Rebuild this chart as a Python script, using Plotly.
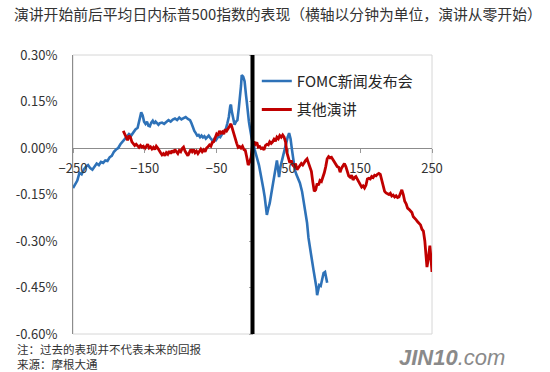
import plotly.graph_objects as go

# ---- data (minutes relative to speech start, % change of S&P 500) ----
fomc_x = [-250, -247, -244, -241, -238, -235, -232, -229, -226, -223, -220, -217, -214, -211, -208,
          -205, -202, -199, -196, -193, -190, -187, -184, -181, -178, -175, -172, -169, -166, -163,
          -160, -157, -155, -153, -151, -149, -147, -145, -143, -141, -139, -137, -135, -133, -131,
          -129, -126, -123, -120, -117, -114, -111, -108, -105, -102, -99, -96, -93, -90, -87,
          -85, -83, -81, -79, -77, -75, -73, -71, -69, -67, -65, -63, -61, -59, -57,
          -55, -53, -51, -49, -47, -45, -43, -41, -39, -37, -35, -33, -31, -30, -29,
          -27, -25, -23, -21, -19, -17, -16, -15, -13, -11, -10, -9, -8, -7, -6,
          -5, -4, -3, -2, -1, 0, 1, 3, 5, 7, 9, 11, 13, 15, 17,
          19, 20, 22, 24, 26, 28, 30, 32, 34, 36, 37, 39, 41, 43, 45,
          47, 49, 51, 53, 55, 57, 59, 61, 63, 66, 69, 71, 73, 76, 78,
          80, 82, 85, 87, 89, 90, 91, 93, 95, 96, 98, 99, 101, 103, 104]
fomc_y = [-0.129, -0.115, -0.105, -0.080, -0.085, -0.070, -0.060, -0.055, -0.065, -0.070, -0.058, -0.050, -0.055, -0.045, -0.048,
          -0.040, -0.042, -0.030, -0.025, -0.012, -0.005, 0.000, 0.012, 0.020, 0.030, 0.038, 0.045, 0.040, 0.052, 0.060,
          0.065, 0.090, 0.115, 0.105, 0.085, 0.078, 0.085, 0.072, 0.070, 0.082, 0.088, 0.078, 0.085, 0.080, 0.075,
          0.080, 0.082, 0.078, 0.085, 0.090, 0.085, 0.092, 0.095, 0.090, 0.098, 0.092, 0.096, 0.100, 0.094, 0.090,
          0.080, 0.065, 0.055, 0.048, 0.040, 0.042, 0.035, 0.040, 0.034, 0.038, 0.030, 0.035, 0.040, 0.033, 0.028,
          0.022, 0.030, 0.025, 0.032, 0.038, 0.035, 0.045, 0.050, 0.055, 0.062, 0.080, 0.100, 0.135, 0.140, 0.120,
          0.095, 0.075, 0.085, 0.090, 0.130, 0.170, 0.200, 0.235, 0.230, 0.215, 0.200, 0.170, 0.150, 0.120, 0.100,
          0.085, 0.070, 0.050, 0.040, 0.030, 0.020, 0.015, -0.005, -0.020, -0.040, -0.055, -0.080, -0.100, -0.130, -0.158,
          -0.200, -0.216, -0.195, -0.178, -0.150, -0.120, -0.085, -0.060, -0.040, -0.075, -0.094, -0.060, -0.040, -0.020, -0.006,
          0.015, 0.035, 0.048, 0.030, -0.006, -0.040, -0.071, -0.085, -0.095, -0.113, -0.140, -0.168, -0.200, -0.242, -0.290,
          -0.329, -0.350, -0.394, -0.420, -0.450, -0.475, -0.465, -0.442, -0.445, -0.432, -0.415, -0.403, -0.400, -0.420, -0.435]

other_x = [-180, -178, -176, -174, -172, -170, -168, -166, -164, -162, -160, -158, -156, -154, -152,
           -150, -148, -146, -144, -142, -140, -138, -136, -134, -132, -130, -128, -126, -124, -122,
           -120, -118, -116, -114, -112, -110, -108, -106, -104, -102, -100, -98, -96, -94, -92,
           -90, -88, -86, -84, -82, -80, -78, -76, -74, -72, -70, -68, -66, -64, -62,
           -60, -58, -56, -54, -52, -50, -48, -46, -44, -42, -40, -38, -36, -34, -32,
           -30, -28, -26, -24, -22, -20, -18, -16, -14, -12, -10, -8, -6, -4, -2,
           0, 2, 4, 6, 8, 10, 12, 14, 16, 18, 20, 22, 24, 26, 28,
           30, 32, 34, 36, 38, 40, 42, 44, 46, 48, 50, 52, 54, 56, 58,
           60, 62, 64, 66, 68, 70, 72, 74, 76, 78, 80, 82, 84, 86, 88,
           90, 92, 94, 96, 98, 100, 102, 104, 106, 108, 110, 112, 114, 116, 118,
           120, 122, 124, 126, 128, 130, 132, 134, 136, 138, 140, 142, 144, 146, 148,
           150, 152, 154, 156, 158, 160, 162, 164, 166, 168, 170, 172, 174, 176, 178,
           180, 182, 184, 186, 188, 190, 192, 194, 196, 198, 200, 202, 204, 206, 208,
           210, 212, 214, 216, 218, 220, 222, 224, 226, 228, 230, 232, 234, 236, 238,
           240, 242, 243, 245, 246, 247, 248, 249, 250]
other_y = [0.055, 0.045, 0.030, 0.025, 0.040, 0.035, 0.020, 0.012, 0.008, 0.012, 0.005, 0.002, 0.008, 0.003, 0.006,
           -0.002, 0.005, 0.012, 0.000, 0.004, -0.003, 0.002, -0.005, 0.006, 0.000, -0.010, -0.015, -0.022, -0.018, -0.025,
           -0.015, -0.020, -0.010, -0.018, -0.008, -0.015, -0.005, -0.012, -0.018, -0.008, -0.012, -0.002, 0.003, -0.010, -0.018,
           -0.025, -0.015, -0.005, -0.012, -0.005, -0.015, -0.010, -0.018, -0.010, -0.004, -0.012, -0.006, -0.012, 0.000, 0.004,
           0.010, 0.006, 0.018, 0.020, 0.030, 0.045, 0.040, 0.055, 0.048, 0.052, 0.045, 0.060, 0.055, 0.065, 0.070,
           0.078, 0.060, 0.050, 0.030, 0.015, 0.002, 0.005, 0.000, 0.006, -0.005, -0.008, -0.030, -0.055, -0.045, -0.030,
           0.010, 0.020, 0.012, 0.018, 0.003, 0.005, -0.002, 0.000, -0.006, 0.008, 0.012, 0.010, 0.020, 0.015, 0.020,
           0.028, 0.022, 0.035, 0.030, 0.040, 0.035, 0.042, 0.035, 0.020, -0.015, -0.030, -0.048, -0.040, -0.055, -0.060,
           -0.050, -0.070, -0.062, -0.058, -0.050, -0.055, -0.045, -0.040, -0.035, -0.048, -0.060, -0.075, -0.110, -0.140, -0.135,
           -0.115, -0.120, -0.105, -0.108, -0.095, -0.080, -0.060, -0.035, -0.028, -0.032, -0.030, -0.038, -0.045, -0.050, -0.060,
           -0.062, -0.078, -0.065, -0.055, -0.050, -0.060, -0.075, -0.090, -0.094, -0.088, -0.103, -0.095, -0.092, -0.100, -0.110,
           -0.120, -0.126, -0.122, -0.129, -0.120, -0.100, -0.098, -0.100, -0.092, -0.095, -0.088, -0.090, -0.085, -0.082, -0.085,
           -0.103, -0.125, -0.140, -0.145, -0.148, -0.150, -0.146, -0.155, -0.152, -0.158, -0.154, -0.160, -0.158, -0.145, -0.135,
           -0.150, -0.172, -0.180, -0.194, -0.198, -0.205, -0.208, -0.222, -0.226, -0.232, -0.238, -0.242, -0.248, -0.262, -0.268,
           -0.300, -0.360, -0.384, -0.355, -0.330, -0.315, -0.340, -0.365, -0.400]

series_names = ["FOMC新闻发布会", "其他演讲"]
x_ticks = [-250, -150, -50, 50, 150, 250]
y_ticks = [-0.60, -0.45, -0.30, -0.15, 0.00, 0.15, 0.30]
y_tick_text = ["-0.60%", "-0.45%", "-0.30%", "-0.15%", "0.00%", "0.15%", "0.30%"]
title_text = "演讲开始前后平均日内标普500指数的表现（横轴以分钟为单位，演讲从零开始）"
note_text = "注：过去的表现并不代表未来的回报"
source_text = "来源：摩根大通"

BLUE = "#2E72B8"
RED = "#C00000"
FONT = "Noto Sans CJK SC"
TXT = "#333333"

fig = go.Figure()
fig.add_trace(go.Scatter(x=fomc_x, y=fomc_y, mode="lines", name=series_names[0],
                         line=dict(color=BLUE, width=2.6), legendgroup="a"))
fig.add_trace(go.Scatter(x=other_x, y=other_y, mode="lines", name=series_names[1],
                         line=dict(color=RED, width=2.8), legendgroup="b"))

# vertical tick marks on the x=0 axis
fig.add_trace(go.Scatter(x=[0], y=[0], yaxis="y2", mode="markers", marker=dict(opacity=0),
                         showlegend=False, hoverinfo="skip"))

fig.update_layout(
    width=550, height=372,
    margin=dict(l=73, r=118, t=55, b=38),
    paper_bgcolor="white", plot_bgcolor="white",
    font=dict(family=FONT, color=TXT, size=13),
    title=dict(text=title_text, x=14 / 550, xanchor="left", xref="container",
               y=1 - 15 / 372, yanchor="middle", yref="container",
               font=dict(size=14.8, color=TXT, family=FONT)),
    showlegend=True,
    legend=dict(x=0.512, y=0.965, xanchor="left", yanchor="top",
                bgcolor="rgba(0,0,0,0)", font=dict(size=15, color="#262626", family=FONT),
                tracegroupgap=6),
    xaxis=dict(range=[-250, 250], tickvals=x_ticks, showgrid=False, zeroline=False,
               anchor="free", position=2 / 3, showline=False,
               ticks="outside", ticklen=4, tickcolor="#999999",
               tickfont=dict(size=13, color=TXT, family=FONT), ticklabelstandoff=4),
    yaxis=dict(range=[-0.6, 0.3], tickvals=y_ticks, ticktext=y_tick_text, showgrid=False,
               zeroline=True, zerolinecolor="#8c8c8c", zerolinewidth=1,
               showline=True, linecolor="#8c8c8c", linewidth=1, ticks="",
               tickfont=dict(size=13, color=TXT, family=FONT), ticklabelstandoff=12),
    yaxis2=dict(range=[-0.6, 0.3], tickvals=y_ticks, overlaying="y", anchor="free",
                position=0.5, showticklabels=False, ticks="outside", ticklen=4,
                tickcolor="#aaaaaa", showgrid=False, zeroline=False, showline=False),
    shapes=[
        dict(type="rect", xref="paper", yref="paper", x0=0, x1=1, y0=0, y1=1,
             line=dict(color="#d6d6d6", width=1), layer="below"),
        dict(type="line", xref="x", yref="paper", x0=0, x1=0, y0=0, y1=1,
             line=dict(color="black", width=4), layer="above"),
    ],
    annotations=[
        dict(text=note_text, xref="paper", yref="paper", x=(15 - 73) / 359, y=(334 - 349) / 279,
             xanchor="left", yanchor="middle", showarrow=False,
             font=dict(size=11.5, color=TXT, family=FONT)),
        dict(text=source_text, xref="paper", yref="paper", x=(15 - 73) / 359, y=(334 - 364) / 279,
             xanchor="left", yanchor="middle", showarrow=False,
             font=dict(size=11.5, color=TXT, family=FONT)),
        dict(text="<b><i>JIN10</i></b><i>.com</i>", xref="paper", yref="paper",
             x=(452 - 73) / 359, y=(334 - 357) / 279, xanchor="center", yanchor="middle",
             showarrow=False, font=dict(size=22, color="#8a8a8a", family="Liberation Sans")),
    ],
)

fig.write_html("out.html", config={"displayModeBar": False},
               post_script="document.body.style.margin='0';document.body.style.overflow='hidden';")
